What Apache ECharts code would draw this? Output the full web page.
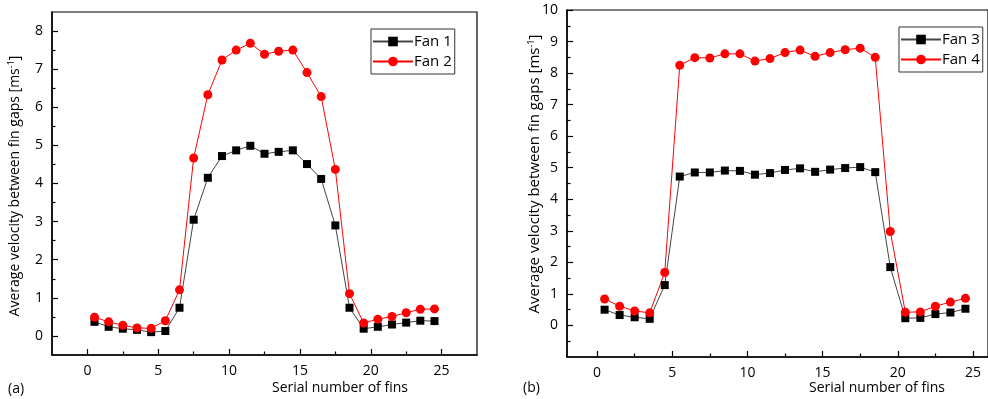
<!DOCTYPE html>
<html><head><meta charset="utf-8">
<script src="https://cdn.jsdelivr.net/npm/echarts@6/dist/echarts.min.js"></script>
<style>html,body{margin:0;padding:0;background:#fff}#c{width:988px;height:399px}</style>
</head><body><div id="c"></div>
<script>
const fins = [0.5,1.5,2.5,3.5,4.5,5.5,6.5,7.5,8.5,9.5,10.5,11.5,12.5,13.5,14.5,15.5,16.5,17.5,18.5,19.5,20.5,21.5,22.5,23.5,24.5];
const fan1 = [0.37,0.24,0.19,0.16,0.10,0.13,0.74,3.05,4.15,4.72,4.87,4.99,4.78,4.83,4.87,4.51,4.12,2.90,0.74,0.19,0.24,0.30,0.35,0.40,0.39];
const fan2 = [0.49,0.37,0.28,0.21,0.20,0.40,1.21,4.67,6.33,7.24,7.50,7.68,7.39,7.47,7.50,6.91,6.28,4.37,1.11,0.34,0.44,0.51,0.61,0.70,0.71];
const fan3 = [0.50,0.33,0.26,0.21,1.28,4.72,4.85,4.85,4.91,4.90,4.78,4.83,4.93,4.98,4.87,4.94,4.99,5.02,4.86,1.85,0.23,0.24,0.36,0.41,0.53];
const fan4 = [0.84,0.61,0.46,0.40,1.68,8.25,8.49,8.48,8.61,8.61,8.38,8.46,8.65,8.73,8.53,8.65,8.74,8.79,8.50,2.98,0.42,0.43,0.61,0.74,0.86];
const xMajor = [0,5,10,15,20,25];
const xMinor = [2.5,7.5,12.5,17.5,22.5];
const yMajorA = [0,1,2,3,4,5,6,7,8];
const yMinorA = [0.5,1.5,2.5,3.5,4.5,5.5,6.5,7.5];
const yMajorB = [0,1,2,3,4,5,6,7,8,9,10];
const yMinorB = [-0.5,0.5,1.5,2.5,3.5,4.5,5.5,6.5,7.5,8.5,9.5];
const yTitle = 'Average velocity between fin gaps [ms{sup|-1}]';
const xTitle = 'Serial number of fins';

const FONT = 'Open Sans';
const txt = {color:'#000', fontFamily: FONT, fontSize: 14};

function pair(grid, min, max, major, minor, pos){
  const major_ = {
    type:'value', gridIndex:grid, min:min, max:max, position:pos,
    axisLine:{show:true, onZero:false, lineStyle:{color:'#000', width:1.5}},
    axisTick:{show:true, inside:true, length:6, customValues:major, lineStyle:{color:'#000', width:1.2}},
    axisLabel:Object.assign({show:true, margin:9, customValues:major}, txt),
    splitLine:{show:false}
  };
  const minor_ = {
    type:'value', gridIndex:grid, min:min, max:max, position:pos,
    axisLine:{show:false, onZero:false},
    axisTick:{show:true, inside:true, length:3.5, customValues:minor, lineStyle:{color:'#000', width:1.2}},
    axisLabel:{show:false},
    splitLine:{show:false}
  };
  return [major_, minor_];
}

const xa = pair(0,-2.5,27.5,xMajor,xMinor,'bottom');
const xb = pair(1,-2,26,xMajor,xMinor,'bottom');
const ya = pair(0,-0.5,8.5,yMajorA,yMinorA,'left');
const yb = pair(1,-1,10,yMajorB,yMinorB,'left');

function pts(v){ return fins.map((x,i)=>[x, v[i]]); }
function ser(name, data, xi, yi, lineColor, color, sym, size){
  return {name:name, type:'line', xAxisIndex:xi, yAxisIndex:yi, data:pts(data),
    symbol:sym, symbolSize:size, showSymbol:true, silent:true, animation:false,
    lineStyle:{color:lineColor, width:1}, itemStyle:{color:color}};
}

const legendBase = {orient:'vertical', itemWidth:40, itemHeight:12, itemGap:5,
  borderColor:'#333', borderWidth:1, padding:[5,3,5,1], textStyle:Object.assign({}, txt, {fontSize:15, padding:[0,0,0,-4]})};

const supStyle = {fontSize:9, verticalAlign:'top', padding:[0,0,7,0], fontFamily:FONT, fill:'#000'};
const option = {
  animation:false,
  grid:[
    {left:52, top:12, width:425, height:343, show:true, borderColor:'#000', borderWidth:1.2, containLabel:false},
    {left:567, top:10, width:431, height:347, show:true, borderColor:'#000', borderWidth:1.2, containLabel:false}
  ],
  xAxis:[xa[0], xa[1], xb[0], xb[1]],
  yAxis:[ya[0], ya[1], yb[0], yb[1]],
  legend:[
    Object.assign({}, legendBase, {left:371, top:29, data:['Fan 1','Fan 2']}),
    Object.assign({}, legendBase, {left:899, top:27, data:['Fan 3','Fan 4']})
  ],
  series:[
    ser('Fan 1', fan1, 0, 0, '#444444', '#000000', 'rect', 8),
    ser('Fan 2', fan2, 0, 0, '#ff0000', '#ff0000', 'circle', 9),
    ser('Fan 3', fan3, 2, 2, '#444444', '#000000', 'rect', 8),
    ser('Fan 4', fan4, 2, 2, '#ff0000', '#ff0000', 'circle', 9)
  ],
  graphic:[
    {type:'text', x:15, y:186, rotation:Math.PI/2, style:{text:yTitle, fill:'#000', font:'14px "'+FONT+'"', align:'center', verticalAlign:'middle', rich:{sup:supStyle}}},
    {type:'text', x:535, y:174, rotation:Math.PI/2, style:{text:yTitle, fill:'#000', font:'15px "'+FONT+'"', align:'center', verticalAlign:'middle', rich:{sup:supStyle}}},
    {type:'text', x:340, y:388, style:{text:xTitle, fill:'#000', font:'14px "'+FONT+'"', align:'center', verticalAlign:'middle'}},
    {type:'text', x:877, y:388, style:{text:xTitle, fill:'#000', font:'14px "'+FONT+'"', align:'center', verticalAlign:'middle'}},
    {type:'text', x:8, y:389, style:{text:'(a)', fill:'#000', font:'14px "'+FONT+'"', align:'left', verticalAlign:'middle'}},
    {type:'text', x:523, y:388, style:{text:'(b)', fill:'#000', font:'14px "'+FONT+'"', align:'left', verticalAlign:'middle'}}
  ]
};
const chart = echarts.init(document.getElementById('c'), null, {renderer:'canvas'});
chart.setOption(option);
</script></body></html>
